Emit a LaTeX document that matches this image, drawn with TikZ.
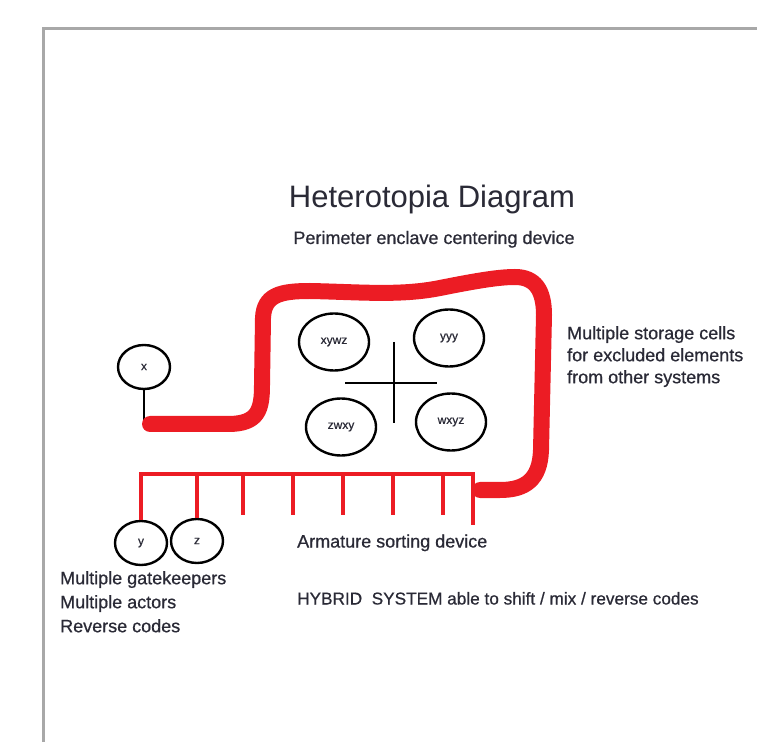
\documentclass[tikz,border=0pt]{standalone}
\usepackage{fontspec}
\setmainfont{Liberation Sans}
\newfontfamily\notefont[FakeBold=0.7]{Liberation Sans}
\usetikzlibrary{positioning,shapes.geometric,calc}
\definecolor{marker}{HTML}{EC1C24}
\definecolor{ink}{HTML}{2A2A36}
\definecolor{framegray}{HTML}{A8A8A8}
\tikzset{cell/.style={ellipse,draw,line width=2.4pt,minimum width=70pt,minimum height=57pt,inner sep=0pt,font=\notefont\fontsize{12}{14}\selectfont,text=ink}, port/.style={cell,minimum width=52pt,minimum height=44pt}, note/.style={font=\notefont\fontsize{18}{22}\selectfont,text=ink,align=left,inner sep=0pt}, perim/.style={draw=marker,line width=16pt,line cap=round,line join=round}, arm/.style={draw=marker,line width=3.5pt}, rim/.style={draw=framegray,line width=3pt}}

\begin{document}
\begin{tikzpicture}[x=1pt,y=1pt]
\useasboundingbox (0,0) rectangle (757,742);
\draw[rim] (43,0)--(43,713)--(757,713);
\node[note,font=\fontsize{31}{36}\selectfont,anchor=base] (head) at (432,534) {Heterotopia Diagram};
\node[note,anchor=base] (perimlbl) at (434,498) {Perimeter enclave centering device};
\node[port] (x) at (144,375) {x};
\node[cell] (xywz) at (334,400) {xywz};
\node[cell] (yyy) at (449,404) {yyy};
\node[cell] (zwxy) at (341,315) {zwxy};
\node[cell] (wxyz) at (451,320) {wxyz};
\node[port] (y) at (141,199) {y};
\node[port] (z) at (197,201) {z};
\coordinate (xfoot) at (144,318);\coordinate (bar) at (141,268);\coordinate (hook) at (473,252);
\draw[line width=2.4pt] (394,400)--(394,319) (345,359)--(437,359);
\draw[line width=2.4pt] (x)--(xfoot);
\draw[perim] ([xshift=6pt]xfoot) -- (228,318) .. controls (258,318) and (262,332) .. (262,357) -- (263,424) .. controls (264,447) and (280,451) .. (310,451) .. controls (360,450) and (400,446) .. (440,454) .. controls (480,462) and (500,465) .. (515,465) .. controls (535,465) and (544,452) .. (544,427) -- (541,292) .. controls (540,262) and (525,252) .. (500,252) -- ([xshift=7pt]hook);
\draw[arm] (y)--(bar)--(bar -| hook)--([yshift=-35pt]hook);\draw[arm] (z)--(z |- bar);
\draw[arm] (243,268)--(243,227) (293,268)--(293,227) (343,268)--(343,227) (393,268)--(393,227) (443,268)--(443,227);
\node[note,anchor=north west] (cells) at (567,416) {Multiple storage cells\\for excluded elements\\from other systems};
\node[note,anchor=base west] (armlbl) at (297,194.5) {Armature sorting device};
\node[note,anchor=base west,font=\notefont\fontsize{17.2}{22}\selectfont] (hybrid) at (297,137.5) {HYBRID~~SYSTEM able to shift / mix / reverse codes};
\node[note,anchor=north west,font=\notefont\fontsize{18}{24}\selectfont] (roles) at (60,171) {Multiple gatekeepers\\Multiple actors\\Reverse codes};
\end{tikzpicture}
\end{document}
